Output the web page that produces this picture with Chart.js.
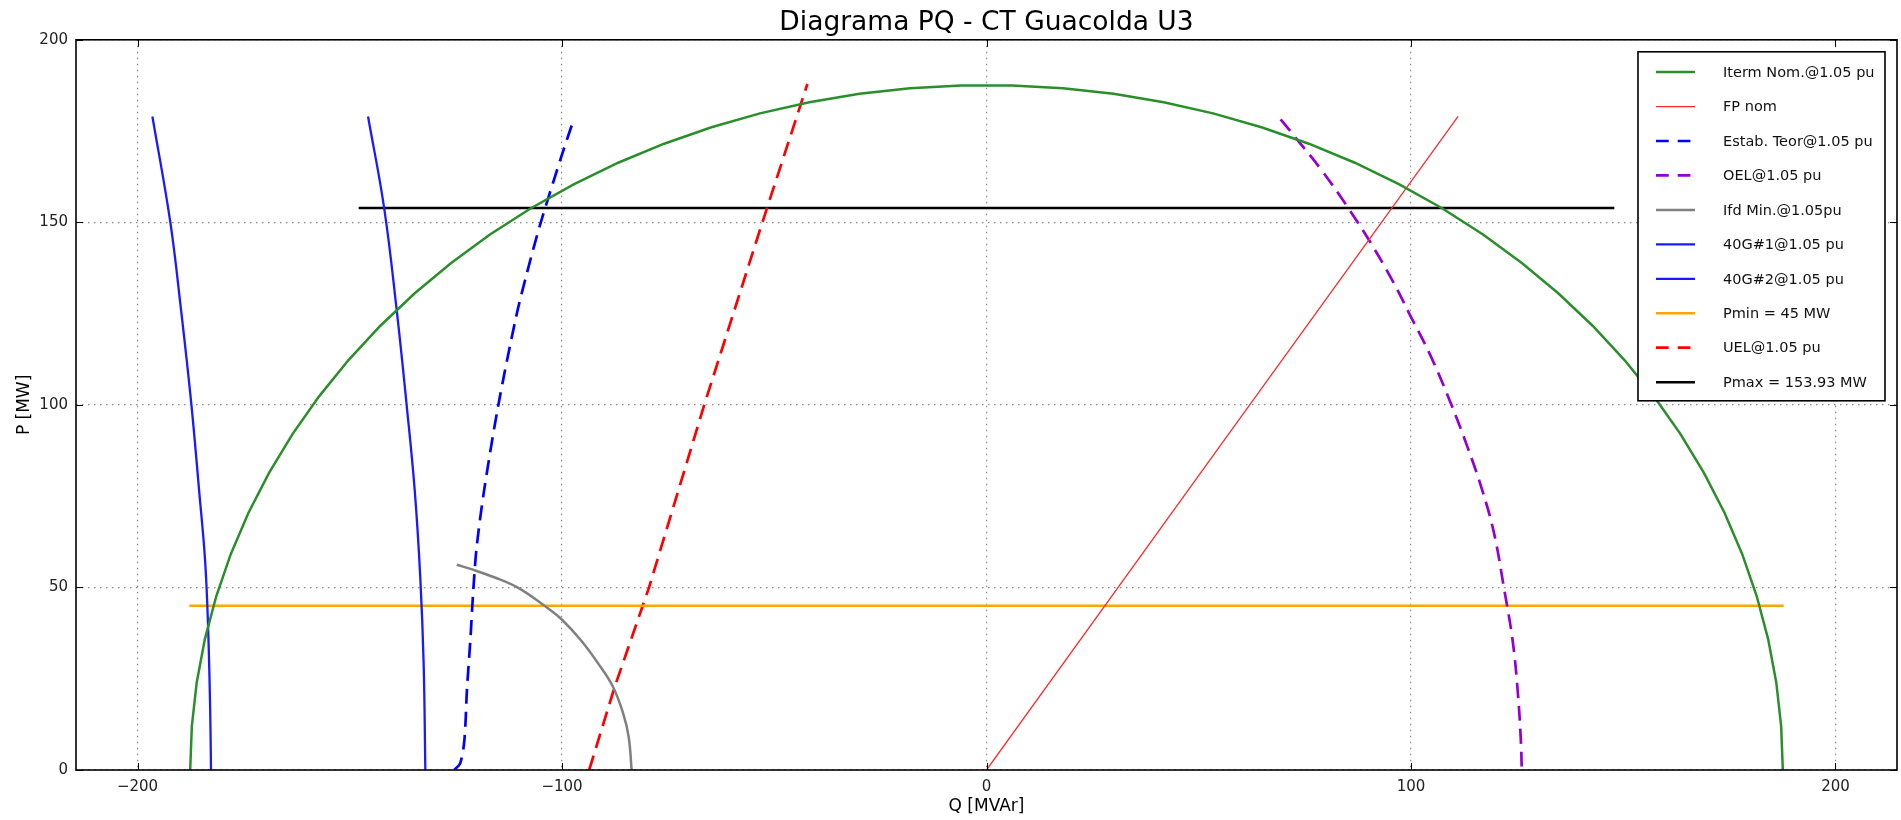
<!DOCTYPE html>
<html>
<head>
<meta charset="utf-8">
<title>Diagrama PQ - CT Guacolda U3</title>
<script src="https://cdn.jsdelivr.net/npm/chart.js@4.4.0/dist/chart.umd.min.js"></script>
<style>
  html, body { margin: 0; padding: 0; background: #fff; }
  #contenedor { width: 1901px; height: 820px; }
</style>
</head>
<body>
<div id="contenedor"><canvas id="graficaPQ" width="1901" height="820"></canvas></div>
<script>
// Iterm Nom.@1.05 pu (semicirculo)
var itermQ = [-187.60, -187.21, -186.06, -184.14, -181.46, -178.04, -173.89, -169.02, -163.46, -157.23,
              -150.35, -142.85, -134.76, -126.12, -116.97, -107.33, -97.25, -86.77, -75.94, -64.79,
              -53.38, -41.74, -29.94, -18.01, -6.01, 6.01, 18.01, 29.94, 41.74, 53.38,
              64.79, 75.94, 86.77, 97.25, 107.33, 116.97, 126.12, 134.76, 142.85, 150.35,
              157.23, 163.46, 169.02, 173.89, 178.04, 181.46, 184.14, 186.06, 187.21, 187.60];
var itermP = [0, 12.02, 23.99, 35.86, 47.59, 59.11, 70.40, 81.40, 92.06, 102.34,
              112.21, 121.61, 130.51, 138.88, 146.67, 153.86, 160.42, 166.33, 171.54, 176.06,
              179.85, 182.90, 185.20, 186.73, 187.50, 187.50, 186.73, 185.20, 182.90, 179.85,
              176.06, 171.54, 166.33, 160.42, 153.86, 146.67, 138.88, 130.51, 121.61, 112.21,
              102.34, 92.06, 81.40, 70.40, 59.11, 47.59, 35.86, 23.99, 12.02, 0];

// FP nom
var fpQ = [0, 55.5, 111.1];
var fpP = [0, 89.5, 179.0];

// Estab. Teor@1.05 pu
var estabQ = [-125.4, -124.0, -123.0, -122.4, -121.6, -120.9, -120.1, -118.3, -115.0, -110.8, -108.3, -105.0, -99.8, -97.3];
var estabP = [0, 1.8, 8.2, 21.9, 35.6, 49.3, 61.2, 77.0, 100.0, 124.2, 136.0, 150.0, 169.3, 178.0];

// OEL@1.05 pu
var oelQ = [69.3, 72.6, 78.8, 84.6, 90.5, 95.8, 99.95, 104.6, 109.4, 113.3, 116.8, 119.6, 121.9, 124.0, 125.2, 125.9, 126.1];
var oelP = [178.2, 173.5, 164.5, 155.0, 144.4, 133.7, 124.2, 113.5, 100.4, 88.5, 76.6, 64.7, 49.9, 35.0, 20.8, 7.7, 0];

// Ifd Min.@1.05pu
var ifdQ = [-124.8, -120.8, -116.0, -110.5, -103.8, -100.3, -95.6, -91.5, -88.0, -85.6, -84.3, -83.6];
var ifdP = [56.2, 54.8, 52.8, 50.0, 44.7, 41.5, 35.6, 29.2, 22.8, 15.5, 9.1, 0];

// 40G#1@1.05 pu y 40G#2@1.05 pu
var g1Q = [-196.5, -192.3, -189.8, -187.3, -185.5, -184.1, -183.4, -182.9, -182.7];
var g1P = [179.0, 150.2, 126.5, 99.9, 76.6, 57.6, 39.8, 17.2, 0];
var g2Q = [-145.7, -141.9, -139.0, -136.6, -134.7, -133.4, -132.6, -132.2];
var g2P = [179.0, 153.9, 126.5, 99.9, 76.6, 52.9, 29.1, 0];

// Pmin / Pmax
var pminQ = [-187.8, 187.8];
var pminP = [45, 45];
var pmaxQ = [-147.9, 147.9];
var pmaxP = [153.93, 153.93];

// UEL@1.05 pu
var uelQ = [-93.6, -87.7, -79.5, -66.5, -52.8, -42.2];
var uelP = [0, 22.4, 50, 100, 150, 187.9];

// Ejes
var ticksQ = [-200, -100, 0, 100, 200];
var ticksP = [0, 50, 100, 150, 200];

Chart.defaults.font.family = "'DejaVu Sans', 'Liberation Sans', sans-serif";

function puntos(qs, ps) {
    return qs.map(function (q, i) { return { x: q, y: ps[i] }; });
}

function serie(label, qs, ps, color, ancho, guiones, curva) {
    return {
        label: label,
        data: puntos(qs, ps),
        borderColor: color,
        backgroundColor: color,
        borderWidth: ancho,
        borderDash: guiones || [],
        showLine: true,
        fill: false,
        tension: curva || 0,
        pointRadius: 0,
        pointHoverRadius: 0
    };
}

var guion = [15, 8];

var datosPQ = {
    datasets: [
        serie('Iterm Nom.@1.05 pu', itermQ, itermP, '#2a8f2a', 2.5),
        serie('FP nom', fpQ, fpP, '#ff2a2a', 1.3),
        serie('Estab. Teor@1.05 pu', estabQ, estabP, '#0000ff', 2.7, guion, 0.3),
        serie('OEL@1.05 pu', oelQ, oelP, '#9400d3', 2.7, guion, 0.4),
        serie('Ifd Min.@1.05pu', ifdQ, ifdP, '#808080', 2.5, null, 0.4),
        serie('40G#1@1.05 pu', g1Q, g1P, '#1a1aff', 2.3, null, 0.4),
        serie('40G#2@1.05 pu', g2Q, g2P, '#1a1aff', 2.3, null, 0.4),
        serie('Pmin = 45 MW', pminQ, pminP, '#ffa500', 2.5),
        serie('UEL@1.05 pu', uelQ, uelP, '#ff0000', 2.7, guion),
        serie('Pmax = 153.93 MW', pmaxQ, pmaxP, '#000000', 2.5)
    ]
};

// Marco y marcas de ticks hacia adentro
var marcoPlugin = {
    id: 'marco',
    afterDatasetsDraw: function (chart) {
        var a = chart.chartArea, ctx = chart.ctx;
        var sx = chart.scales.x, sy = chart.scales.y;
        ctx.save();
        ctx.strokeStyle = '#000';
        ctx.lineWidth = 1;
        ticksQ.forEach(function (v) {
            var px = Math.round(sx.getPixelForValue(v)) + 0.5;
            ctx.beginPath();
            ctx.moveTo(px, a.bottom); ctx.lineTo(px, a.bottom - 7);
            ctx.moveTo(px, a.top); ctx.lineTo(px, a.top + 7);
            ctx.stroke();
        });
        ticksP.forEach(function (v) {
            var py = Math.round(sy.getPixelForValue(v)) + 0.5;
            ctx.beginPath();
            ctx.moveTo(a.left, py); ctx.lineTo(a.left + 7, py);
            ctx.moveTo(a.right, py); ctx.lineTo(a.right - 7, py);
            ctx.stroke();
        });
        ctx.lineWidth = 1.6;
        ctx.strokeRect(a.left, a.top, a.right - a.left, a.bottom - a.top);
        ctx.restore();
    }
};

// Leyenda con recuadro, dentro del area de la grafica
var leyendaPlugin = {
    id: 'leyendaPQ',
    afterDraw: function (chart) {
        var a = chart.chartArea, ctx = chart.ctx;
        var sets = chart.data.datasets;
        var w = 247, h = 349;
        var x0 = a.right - 12 - w, y0 = a.top + 12;
        ctx.save();
        ctx.fillStyle = '#fff';
        ctx.fillRect(x0, y0, w, h);
        ctx.strokeStyle = '#000';
        ctx.lineWidth = 1.6;
        ctx.strokeRect(x0, y0, w, h);
        ctx.font = '14.5px ' + Chart.defaults.font.family;
        ctx.textBaseline = 'middle';
        ctx.textAlign = 'left';
        sets.forEach(function (ds, i) {
            var yy = y0 + 20.3 + i * 34.45;
            ctx.beginPath();
            ctx.setLineDash(ds.borderDash && ds.borderDash.length ? [12.7, 9] : []);
            ctx.strokeStyle = ds.borderColor;
            ctx.lineWidth = ds.borderWidth;
            ctx.moveTo(x0 + 18, yy);
            ctx.lineTo(x0 + 57, yy);
            ctx.stroke();
            ctx.setLineDash([]);
            ctx.fillStyle = '#111';
            ctx.fillText(ds.label, x0 + 85, yy + 1);
        });
        ctx.restore();
    }
};

function menos(v) {
    return String(v).replace('-', '\u2212');
}

var ctx = document.getElementById('graficaPQ').getContext('2d');
window.graficaPQ = new Chart(ctx, {
    type: 'scatter',
    data: datosPQ,
    plugins: [marcoPlugin, leyendaPlugin],
    options: {
        responsive: false,
        animation: false,
        layout: { padding: { top: 0, right: 4, bottom: 0, left: 0 } },
        plugins: {
            legend: { display: false },
            tooltip: { enabled: false },
            title: {
                display: true,
                fullSize: false,
                text: 'Diagrama PQ - CT Guacolda U3',
                color: '#000',
                font: { size: 26.5, weight: 'normal' },
                padding: { top: 7, bottom: 1 }
            }
        },
        scales: {
            x: {
                type: 'linear',
                min: -214.5,
                max: 214.5,
                afterBuildTicks: function (s) { s.ticks = ticksQ.map(function (v) { return { value: v }; }); },
                ticks: { color: '#222', font: { size: 15 }, padding: 8, maxRotation: 0, callback: menos },
                grid: { color: '#8a8a8a', lineWidth: 1.2, drawTicks: false },
                border: { display: false, dash: [1.5, 4.5] },
                title: { display: true, text: 'Q [MVAr]', color: '#000', font: { size: 17 }, padding: { top: 0, bottom: 3 } },
                afterFit: function (s) { s.height = 50; }
            },
            y: {
                type: 'linear',
                min: 0,
                max: 200,
                afterBuildTicks: function (s) { s.ticks = ticksP.map(function (v) { return { value: v }; }); },
                ticks: { color: '#222', font: { size: 15 }, padding: 8, callback: menos },
                grid: { color: '#8a8a8a', lineWidth: 1.2, drawTicks: false },
                border: { display: false, dash: [1.5, 4.5] },
                title: { display: true, text: 'P [MW]', color: '#000', font: { size: 17 }, padding: { top: 14, bottom: 0 } },
                afterFit: function (s) { s.width = 76; }
            }
        }
    }
});
</script>
</body>
</html>
